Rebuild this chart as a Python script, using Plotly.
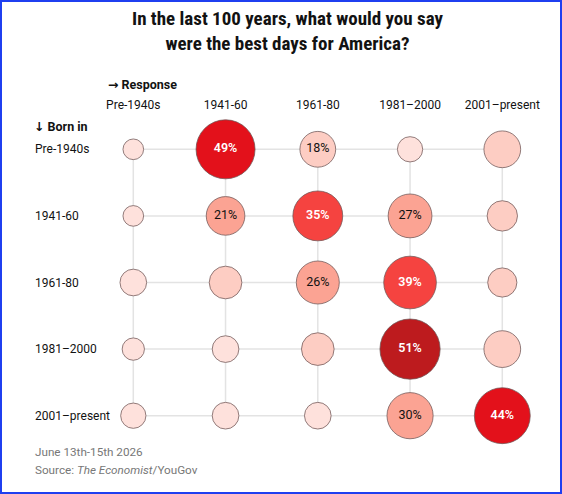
import numpy as np
import plotly.graph_objects as go

# survey categories
responses = ["Pre-1940s", "1941-60", "1961-80", "1981–2000", "2001–present"]
born_in = ["Pre-1940s", "1941-60", "1961-80", "1981–2000", "2001–present"]

# share of each birth cohort picking each period, % (rows = born in)
shares = [
    [6, 49, 18, 9, 19],
    [6, 21, 35, 27, 13],
    [10, 15, 26, 39, 12],
    [7, 10, 15, 51, 19],
    [9, 10, 10, 30, 44],
]
# which bubbles carry a printed value
labelled = [
    [0, 1, 1, 0, 0],
    [0, 1, 1, 1, 0],
    [0, 0, 1, 1, 0],
    [0, 0, 0, 1, 0],
    [0, 0, 0, 1, 1],
]

# colour bands (upper bound of each band, %)
band_tops = [11, 19, 30, 40, 50, 100]
band_colors = ["#fee1dc", "#fdcdc3", "#fba393", "#f54340", "#e3111b", "#bd1b1e"]

title_font = "Liberation Sans Narrow, Arial Narrow, Roboto Condensed, sans-serif"
body_font = "Roboto, Liberation Sans, sans-serif"
arrow_span = "<span style='font-family:DejaVu Sans;font-weight:bold'>{}</span>"

W, H = 562, 494
ML, MR, MT, MB = 110, 32, 112, 64

xs, ys, vals, txt, tcol = [], [], [], [], []
for r, row in enumerate(shares):
    for c, v in enumerate(row):
        xs.append(c)
        ys.append(r)
        vals.append(v)
        dark = v >= 35
        if not labelled[r][c]:
            txt.append("")
        elif dark:
            txt.append(f"<span style='font-weight:600'>{v}%</span>")
        else:
            txt.append(f"{v}%")
        tcol.append("white" if dark else "#121212")
vals = np.array(vals)
fill = [band_colors[i] for i in np.digitize(vals, band_tops, right=True)]

fig = go.Figure()

# grid of connecting lines
grid_style = dict(color="#e3e3e3", width=1.5)
for r in range(len(born_in)):
    fig.add_trace(go.Scatter(x=list(range(len(responses))), y=[r] * len(responses),
                             mode="lines", line=grid_style, hoverinfo="skip"))
for c in range(len(responses)):
    fig.add_trace(go.Scatter(x=[c] * len(born_in), y=list(range(len(born_in))),
                             mode="lines", line=grid_style, hoverinfo="skip"))

# bubbles, area proportional to share
fig.add_trace(go.Scatter(
    x=xs, y=ys, mode="markers+text",
    marker=dict(size=vals, sizemode="area", sizeref=2 * 49 / 59 ** 2,
                color=fill, line=dict(color="rgba(110,85,85,0.75)", width=1), opacity=1),
    text=txt, textposition="middle center",
    textfont=dict(family=body_font, size=12.5, color=tcol),
    cliponaxis=False, hoverinfo="skip",
))

pw = W - ML - MR
ph = H - MT - MB


def px_x(p):
    return (p - ML) / pw


def px_y(p):
    return (H - MB - p) / ph


annotations = [dict(
    text="<b>In the last 100 years, what would you say<br>were the best days for America?</b>",
    x=px_x(287), y=px_y(30.5), xanchor="center", yanchor="middle",
    xref="paper", yref="paper", showarrow=False,
    font=dict(family=title_font, size=19, color="#121212"),
)]
for r, lab in enumerate(born_in):
    annotations.append(dict(text=lab, x=px_x(33), xref="paper", y=r, yref="y",
                            xanchor="left", yanchor="middle", showarrow=False,
                            font=dict(family=body_font, size=12, color="#121212")))
annotations += [
    dict(text="<b>" + arrow_span.format("→") + " Response</b>", x=px_x(106), y=px_y(84)),
    dict(text="<b>" + arrow_span.format("↓") + " Born in</b>", x=px_x(32), y=px_y(126)),
]
for a in annotations[-2:]:
    a.update(xref="paper", yref="paper", xanchor="left", yanchor="middle", showarrow=False,
             font=dict(family=body_font, size=12.5, color="#121212"))
annotations += [
    dict(text="June 13th-15th 2026", x=px_x(33), y=px_y(451.5)),
    dict(text="Source: <i>The Economist</i>/YouGov", x=px_x(33), y=px_y(469.5)),
]
for a in annotations[-2:]:
    a.update(xref="paper", yref="paper", xanchor="left", yanchor="middle", showarrow=False,
             font=dict(family=body_font, size=11.7, color="#777777"))

fig.update_layout(
    width=W, height=H,
    margin=dict(l=ML, r=MR, t=MT, b=MB),
    paper_bgcolor="white", plot_bgcolor="white",
    showlegend=False,
    xaxis=dict(range=[-(133.3 - ML) / 92.25, 4 + (W - MR - 502.3) / 92.25],
               tickvals=list(range(len(responses))), ticktext=responses, side="top",
               showgrid=False, zeroline=False, showline=False, ticks="",
               tickfont=dict(family=body_font, size=12, color="#121212")),
    yaxis=dict(range=[4 + (H - MB - 415.7) / 66.6, -(149.3 - MT) / 66.6],
               showgrid=False, zeroline=False, showline=False, showticklabels=False),
    annotations=annotations,
    shapes=[dict(type="rect", xref="paper", yref="paper",
                 x0=px_x(1), x1=px_x(561), y0=px_y(493), y1=px_y(1),
                 line=dict(color="#1f3ff0", width=2), layer="above")],
)

fig.write_html("out.html", config={"displayModeBar": False},
               post_script="document.body.style.margin='0';")
